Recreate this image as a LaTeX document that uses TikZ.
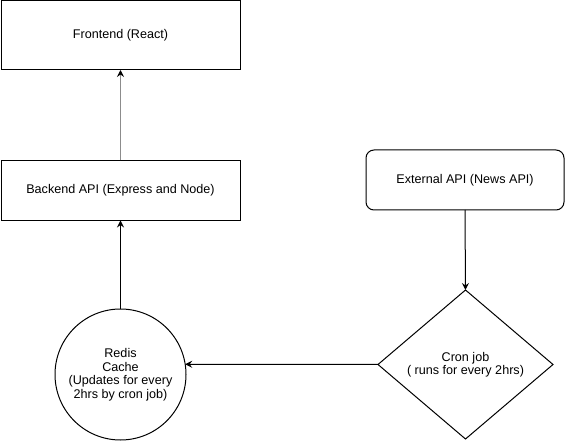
\documentclass[tikz,border=0pt]{standalone}
\usepackage{fontspec}
\setmainfont{Liberation Sans}
\usetikzlibrary{arrows.meta,shapes.geometric}

\begin{document}
\begin{tikzpicture}[x=1pt,y=-1pt,
	every node/.style={font=\fontsize{12.6}{13.5}\selectfont,align=center,
		inner sep=0pt,outer sep=0pt,line width=1pt},
	box/.style={draw,rectangle,minimum width=239,minimum height=69},
	flow/.style={line width=1pt,-{Stealth[length=7pt,width=7pt,inset=2.5pt,color=black]}}]
	\useasboundingbox (0,0) rectangle (566,441);
	\node (frontend) at (120.5,35.5) [box] {Frontend (React)};
	\node (backend) at (120.5,190.5) [box,minimum height=60] {Backend API (Express and Node)};
	\node (external) at (465,180) [box,rounded corners=8pt,minimum width=198,minimum height=60] {External API (News API)};
	\node (cron) at (465.5,364.5) [draw,diamond,aspect=1.17,minimum width=175,minimum height=149] {Cron job\\( runs for every 2hrs)};
	\node (redis) at (120.5,374.5) [draw,circle,minimum size=131] {Redis\\Cache\\(Updates for every\\ 2hrs by cron job)};
	\draw [flow,draw=black!45,line width=1.3pt] (backend.north)--(frontend.south);
	\draw [flow] (redis.north)--(backend.south);
	\draw [flow] (external.south)--(cron.north);
	\draw [flow] (cron.west)--(redis.9);
\end{tikzpicture}
\end{document}
